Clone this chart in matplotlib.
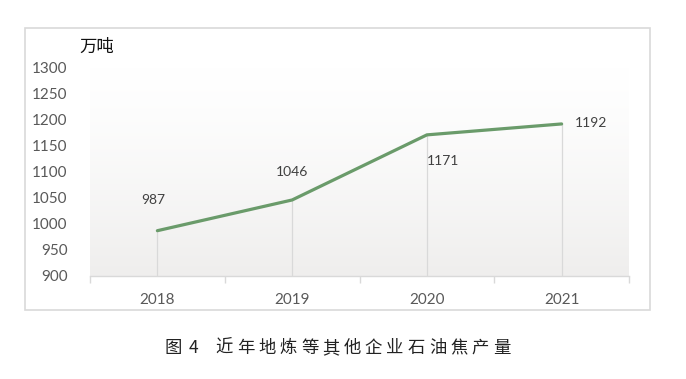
import numpy as np
import matplotlib.pyplot as plt
from matplotlib.patches import Rectangle

plt.rcParams['font.family'] = ['Lato', 'Noto Sans CJK SC', 'DejaVu Sans']

years = ['2018', '2019', '2020', '2021']
output = [987, 1046, 1171, 1192]
unit = '万吨'
title_chars = ['图', '4'] + list('近年地炼等其他企业石油焦产量')

W, H = 686, 379
fig = plt.figure(figsize=(W / 100, H / 100), dpi=100)

# outer frame of the chart
fig.patches.append(Rectangle((25 / W, 1 - 310 / H), 625 / W, 282 / H,
                             transform=fig.transFigure, fill=False,
                             edgecolor='#d9d9d9', linewidth=1.2))

ax = fig.add_axes([90 / W, 1 - 276 / H, 539 / W, (276 - 67.7) / H])
x = np.arange(len(years))
ax.set_xlim(-0.5, len(years) - 0.5)
ax.set_ylim(900, 1300)

# soft vertical gradient in the plot area
grad = np.linspace(0, 1, 256).reshape(-1, 1)
c_top = np.array([1.0, 1.0, 1.0])
c_bot = np.array([0xef, 0xee, 0xed]) / 255
img = c_top + (c_bot - c_top) * grad[..., None] ** 1.3
ax.imshow(img, extent=(-0.5, len(years) - 0.5, 900, 1300), aspect='auto',
          origin='upper', zorder=0)

ax.vlines(x, 900, output, color='#d9d9d9', linewidth=0.9, zorder=1)
ax.plot(x, output, color='#6a9b6a', linewidth=2.3, solid_capstyle='round', zorder=3)

offsets = [(-4, 31, 'center'), (0, 28, 'center'), (0, -26, 'left'), (13, 1, 'left')]
for xi, v, (dx, dy, ha) in zip(x, output, offsets):
    ax.annotate(str(v), (xi, v), xytext=(dx, dy), textcoords='offset pixels',
                ha=ha, va='center', fontsize=10, color='#404040')

for s in ['top', 'right', 'left']:
    ax.spines[s].set_visible(False)
ax.spines['bottom'].set_color('#d9d9d9')
ax.spines['bottom'].set_linewidth(1.0)

ax.set_yticks(range(900, 1301, 50))
ax.tick_params(axis='y', length=0, labelsize=11, labelcolor='#595959', pad=16)
ax.set_xticks(x)
ax.set_xticklabels(years)
ax.tick_params(axis='x', which='major', length=0, labelsize=11, labelcolor='#595959', pad=12)
ax.set_xticks(np.arange(-0.5, len(years)), minor=True)
ax.tick_params(axis='x', which='minor', length=5, color='#d9d9d9', width=1.0)

fig.text(79 / W, 1 - 47 / H, unit, fontsize=12.5, color='#111111',
         family=['Noto Sans CJK SC'], ha='left', va='center')

# caption, spaced characters
xs = [173.5, 193.5] + [224.5 + 21.3 * i for i in range(len(title_chars) - 2)]
for cx, ch in zip(xs, title_chars):
    fig.text(cx / W, 1 - 348 / H, ch, fontsize=12.5, color='#222222',
             family=['Noto Sans CJK SC', 'DejaVu Sans'], ha='center', va='center')

fig.savefig('out.png', dpi=100)
